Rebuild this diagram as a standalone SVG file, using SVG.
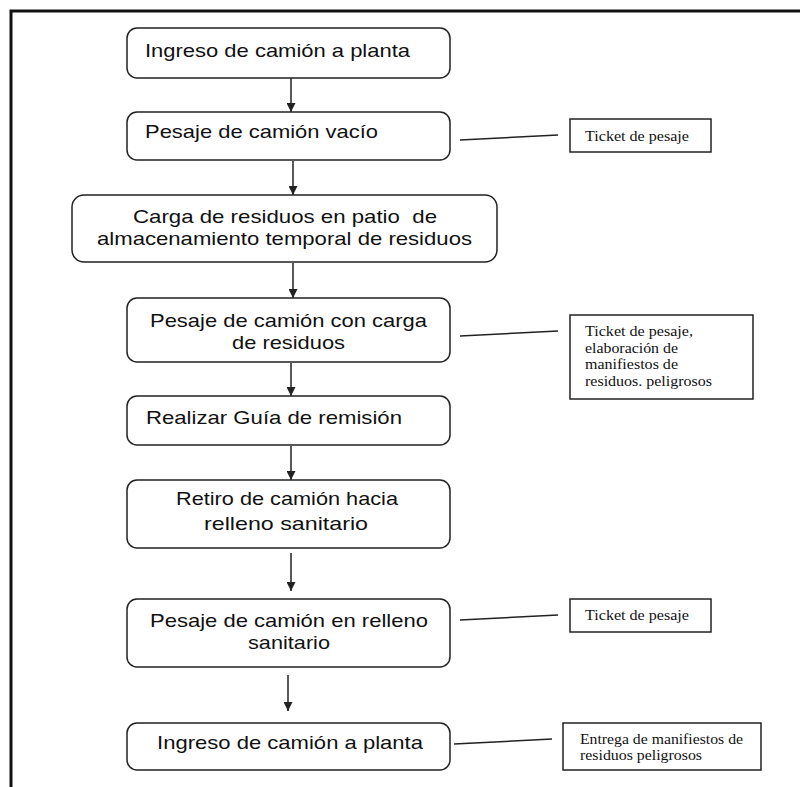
<svg xmlns="http://www.w3.org/2000/svg" width="800" height="787" viewBox="0 0 800 787">
<defs>
<style>
.node rect.step{fill:#fff;stroke:#222;stroke-width:1.5}
.node rect.note{fill:#fff;stroke:#222;stroke-width:1.5}
.t{font-family:"Liberation Sans",Arial,sans-serif;font-size:19px;fill:#111}
.n{font-family:"Liberation Serif","Times New Roman",serif;font-size:14.5px;fill:#111}
.conn line{stroke:#222;stroke-width:1.5}
.arr{marker-end:url(#ah)}
</style>
<marker id="ah" viewBox="0 0 10 10" refX="10" refY="5" markerWidth="9" markerHeight="9" markerUnits="userSpaceOnUse" orient="auto">
<path d="M0,0 L10,5 L0,10 z" fill="#222"/>
</marker>
</defs>
<rect width="800" height="787" fill="#fff"/>
<path d="M11,800 L11,11 L800,11" fill="none" stroke="#111" stroke-width="3"/>

<g class="conn">
<line class="arr" x1="291" y1="78" x2="291" y2="112"/>
<line class="arr" x1="293" y1="161" x2="293" y2="195"/>
<line class="arr" x1="293" y1="263" x2="293" y2="298"/>
<line class="arr" x1="291" y1="363" x2="291" y2="396"/>
<line class="arr" x1="291" y1="446" x2="291" y2="480"/>
<line class="arr" x1="291" y1="553" x2="291" y2="591"/>
<line class="arr" x1="288" y1="675" x2="288" y2="711"/>
<line x1="460" y1="140" x2="558" y2="135"/>
<line x1="460" y1="336" x2="558" y2="331"/>
<line x1="460" y1="620" x2="558" y2="615"/>
<line x1="454" y1="744" x2="552" y2="739"/>
</g>

<g id="n1" class="node">
<rect class="step" x="127" y="28" width="323" height="50" rx="10"/>
<text class="t" x="145" y="57" textLength="265" lengthAdjust="spacingAndGlyphs">Ingreso de camión a planta</text>
</g>
<g id="n2" class="node">
<rect class="step" x="127" y="112" width="323" height="48" rx="10"/>
<text class="t" x="145" y="138" textLength="233" lengthAdjust="spacingAndGlyphs">Pesaje de camión vacío</text>
</g>
<g id="n3" class="node">
<rect class="step" x="72" y="195" width="425" height="67" rx="12"/>
<text class="t" x="133" y="223" textLength="304" lengthAdjust="spacingAndGlyphs" xml:space="preserve">Carga de residuos en patio  de</text>
<text class="t" x="97" y="245" textLength="375" lengthAdjust="spacingAndGlyphs">almacenamiento temporal de residuos</text>
</g>
<g id="n4" class="node">
<rect class="step" x="127" y="298" width="323" height="64" rx="10"/>
<text class="t" x="150" y="327" textLength="277" lengthAdjust="spacingAndGlyphs">Pesaje de camión con carga</text>
<text class="t" x="232" y="349" textLength="113" lengthAdjust="spacingAndGlyphs">de residuos</text>
</g>
<g id="n5" class="node">
<rect class="step" x="127" y="396" width="323" height="49" rx="10"/>
<text class="t" x="146" y="424" textLength="256" lengthAdjust="spacingAndGlyphs">Realizar Guía de remisión</text>
</g>
<g id="n6" class="node">
<rect class="step" x="127" y="480" width="323" height="68" rx="10"/>
<text class="t" x="176" y="505" textLength="222" lengthAdjust="spacingAndGlyphs">Retiro de camión hacia</text>
<text class="t" x="204" y="530" textLength="164" lengthAdjust="spacingAndGlyphs">relleno sanitario</text>
</g>
<g id="n7" class="node">
<rect class="step" x="127" y="599" width="323" height="68" rx="10"/>
<text class="t" x="150" y="627" textLength="278" lengthAdjust="spacingAndGlyphs">Pesaje de camión en relleno</text>
<text class="t" x="248" y="649" textLength="82" lengthAdjust="spacingAndGlyphs">sanitario</text>
</g>
<g id="n8" class="node">
<rect class="step" x="127" y="723" width="323" height="47" rx="10"/>
<text class="t" x="157" y="749" textLength="266" lengthAdjust="spacingAndGlyphs">Ingreso de camión a planta</text>
</g>

<g id="note1" class="node">
<rect class="note" x="570" y="119" width="141" height="33"/>
<text class="n" x="585" y="141" textLength="104" lengthAdjust="spacingAndGlyphs">Ticket de pesaje</text>
</g>
<g id="note2" class="node">
<rect class="note" x="570" y="315" width="183" height="84"/>
<text class="n" x="585" y="336" textLength="108" lengthAdjust="spacingAndGlyphs">Ticket de pesaje,</text>
<text class="n" x="585" y="352.5" textLength="93" lengthAdjust="spacingAndGlyphs">elaboración de</text>
<text class="n" x="585" y="369" textLength="93" lengthAdjust="spacingAndGlyphs">manifiestos de</text>
<text class="n" x="585" y="385.5" textLength="127" lengthAdjust="spacingAndGlyphs">residuos. peligrosos</text>
</g>
<g id="note3" class="node">
<rect class="note" x="570" y="599" width="141" height="33"/>
<text class="n" x="585" y="620" textLength="104" lengthAdjust="spacingAndGlyphs">Ticket de pesaje</text>
</g>
<g id="note4" class="node">
<rect class="note" x="563" y="723" width="198" height="47"/>
<text class="n" x="580" y="743.5" textLength="163" lengthAdjust="spacingAndGlyphs">Entrega de manifiestos de</text>
<text class="n" x="580" y="760" textLength="122" lengthAdjust="spacingAndGlyphs">residuos peligrosos</text>
</g>
</svg>
